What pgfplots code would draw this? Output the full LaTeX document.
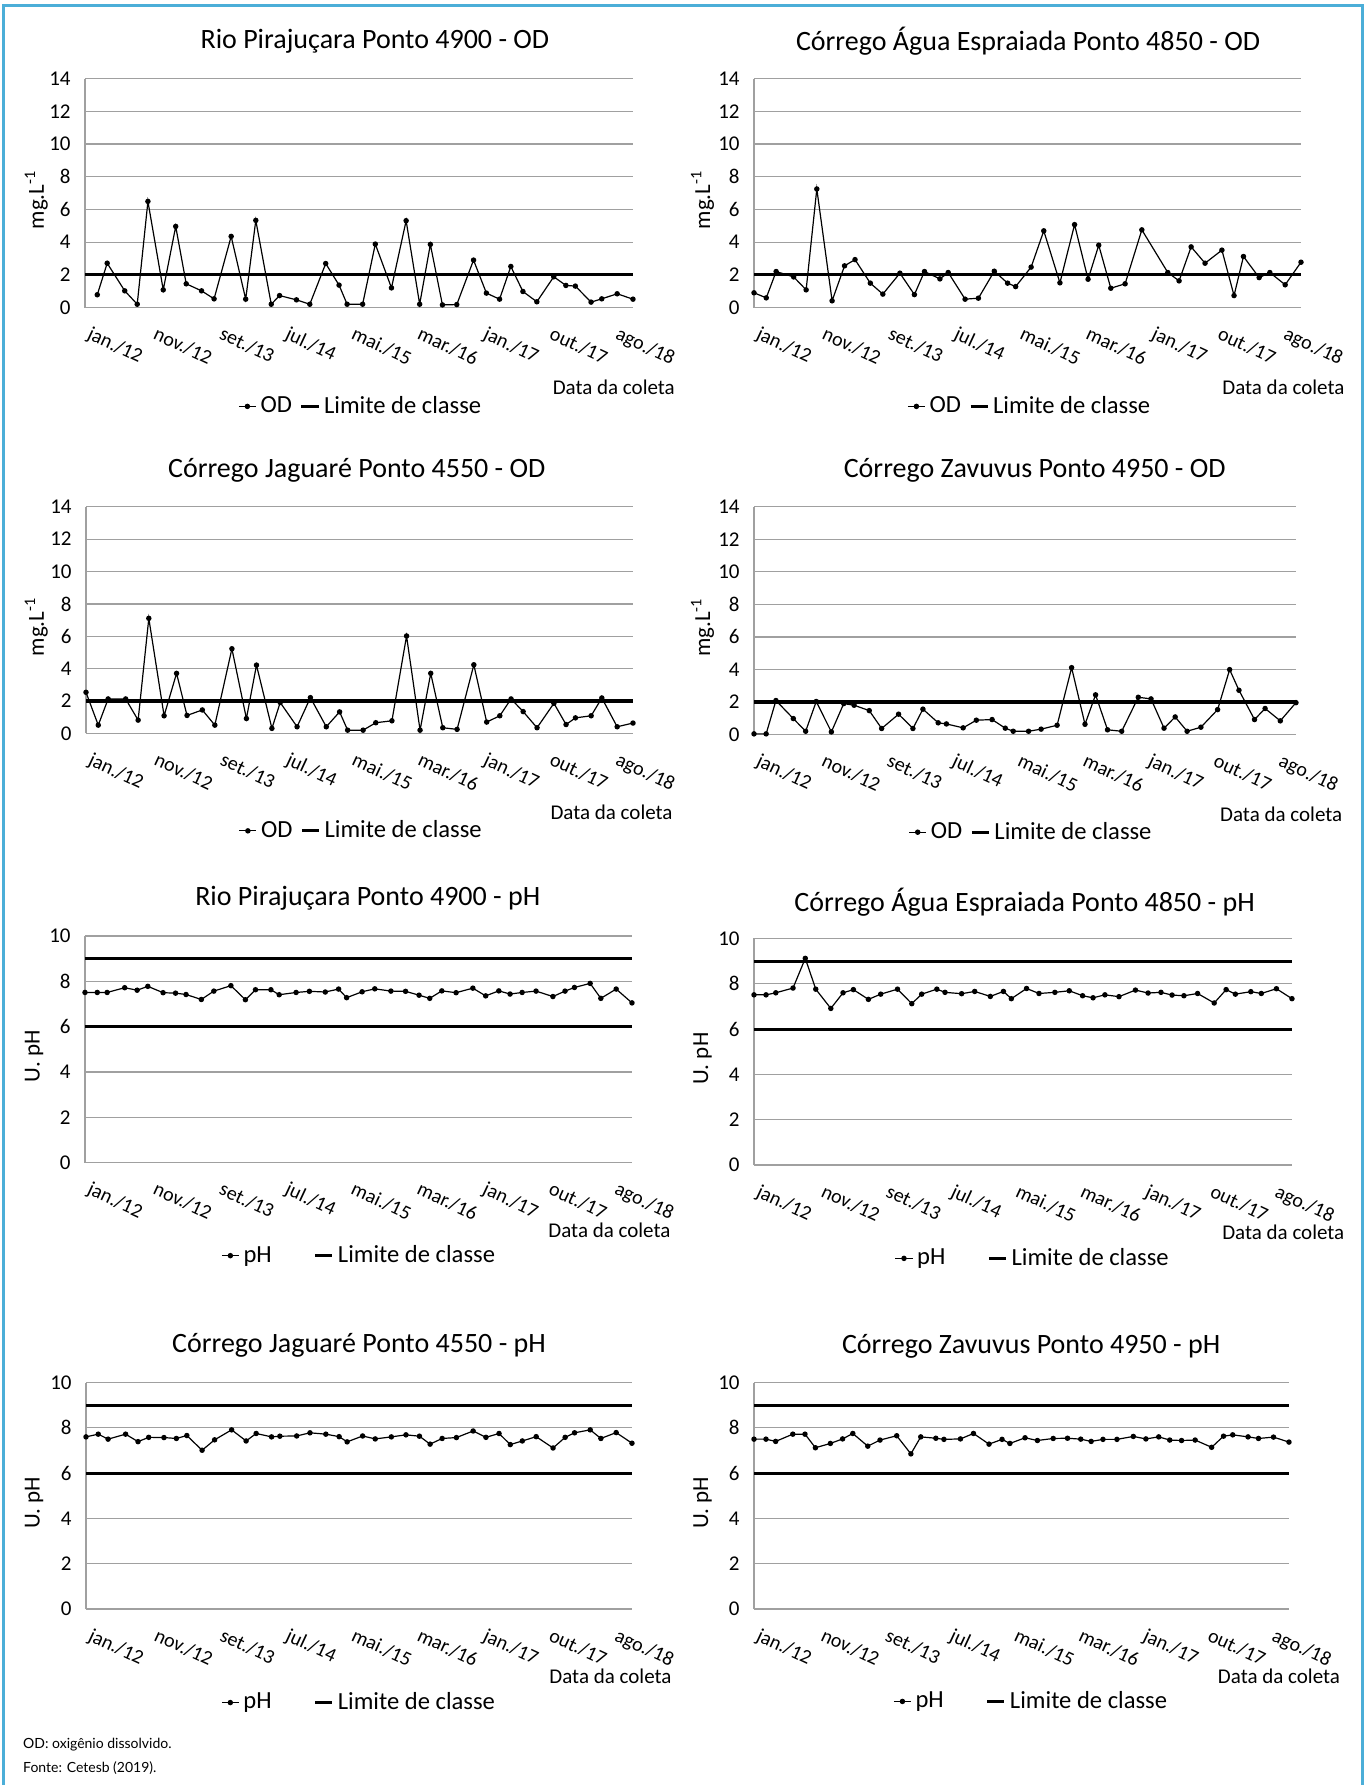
\documentclass[border=0pt]{standalone}
\usepackage{fontspec}
\setmainfont{Carlito}
\newfontfamily\footfont{Lato}
\usepackage{pgfplots}
\usepackage{pgfplotstable}
\pgfplotsset{compat=1.18}
\definecolor{gridc}{HTML}{A0A0A0}
\definecolor{frameblue}{HTML}{4BAED8}

\pgfplotstableread{
x     a    b    c    d    e    f    g    h
0     nan  0.90 2.54 0.04 7.51 7.51 7.60 7.50
1.86  0.78 0.59 0.51 0.04 7.51 7.51 7.72 7.50
3.36  2.71 2.20 2.13 2.09 7.51 7.60 7.50 7.40
6.02  1.02 1.87 2.13 0.98 7.72 7.81 7.72 7.72
7.91  0.20 1.08 0.82 0.20 7.61 9.12 7.39 7.72
9.53  6.49 7.25 7.11 2.03 7.78 7.76 7.58 7.12
11.85 1.08 0.41 1.09 0.16 7.50 6.91 7.57 7.31
13.74 4.96 2.55 3.71 1.90 7.48 7.60 7.53 7.51
15.33 1.45 2.93 1.11 1.80 7.42 7.74 7.66 7.75
17.65 1.02 1.49 1.45 1.47 7.20 7.31 7.01 7.19
19.55 0.53 0.82 0.51 0.37 7.57 7.54 7.47 7.46
22.14 4.35 2.10 5.23 1.25 7.81 7.76 7.91 7.65
24.34 0.51 0.79 0.92 0.37 7.19 7.12 7.42 6.85
25.87 5.33 2.20 4.22 1.56 7.63 7.54 7.75 7.60
28.21 0.20 1.75 0.31 0.72 7.63 7.76 7.60 7.54
29.47 0.73 2.14 1.91 0.65 7.41 7.62 7.63 7.49
32.03 0.47 0.51 0.41 0.41 7.51 7.56 7.64 7.51
34.05 0.20 0.57 2.21 0.88 7.56 7.66 7.78 7.75
36.46 2.69 2.22 0.41 0.92 7.53 7.44 7.72 7.28
38.48 1.37 1.49 1.33 0.39 7.66 7.66 7.61 7.49
39.70 0.20 1.28 0.20 0.20 7.28 7.34 7.38 7.31
42.05 0.20 2.47 0.20 0.20 7.54 7.79 7.64 7.56
43.97 3.88 4.69 0.66 0.33 7.67 7.57 7.51 7.44
46.42 1.20 1.51 0.78 0.57 7.57 7.62 7.60 7.53
48.64 5.31 5.07 6.02 4.11 7.56 7.69 7.69 7.54
50.69 0.20 1.73 0.20 0.63 7.39 7.47 7.63 7.50
52.31 3.86 3.81 3.71 2.44 7.25 7.38 7.28 7.40
54.14 0.16 1.18 0.35 0.29 7.58 7.51 7.53 7.49
56.31 0.18 1.45 0.25 0.20 7.50 7.43 7.57 7.49
58.85 2.90 4.75 4.24 2.29 7.70 7.72 7.86 7.62
60.80 0.88 nan  0.70 2.19 7.36 7.59 7.58 7.51
62.79 0.51 2.14 1.09 0.39 7.58 7.62 7.75 7.60
64.50 2.51 1.63 2.13 1.08 7.44 7.50 7.26 7.46
66.33 0.98 3.71 1.35 0.20 7.51 7.47 7.42 7.44
68.44 0.35 2.71 0.35 0.45 7.57 7.57 7.61 7.46
71.00 1.88 3.51 1.86 1.53 7.33 7.15 7.11 7.14
72.84 1.35 0.73 0.55 3.99 7.57 7.74 7.58 7.63
74.27 1.31 3.12 0.96 2.72 7.73 7.54 7.78 7.69
76.65 0.33 1.83 1.09 0.92 7.91 7.65 7.91 7.60
78.27 0.53 2.14 2.19 1.60 7.25 7.57 7.53 7.53
80.60 0.84 1.39 0.41 0.84 7.66 7.78 7.79 7.59
83.00 0.51 2.77 0.64 1.96 7.05 7.34 7.32 7.37
}\data

\pgfplotsset{
  panel/.style={
    scale only axis,
    anchor=south west,
    xmin=0, xmax=83,
    axis x line*=bottom, axis y line*=left,
    axis line style={-, draw=gridc, line width=0.6pt},
    ymajorgrids, grid style={draw=gridc, line width=0.6pt},
    xtick={0,10,...,80},
    xticklabels={jan./12,nov./12,set./13,jul./14,mai./15,mar./16,jan./17,out./17,ago./18},
    major tick length=0pt,
    tick style={draw=none},
    /pgf/number format/assume math mode=true,
    xticklabel style={xshift=3.5pt, yshift=-9pt, rotate=-25, anchor=north west, inner sep=0pt,
      font=\fontsize{10}{12}\selectfont},
    yticklabel style={font=\fontsize{10.5}{12}\selectfont, anchor=east, inner sep=0pt, xshift=-7pt},
    every axis title shift=0pt,
    title style={font=\fontsize{14}{17}\selectfont, anchor=center, inner sep=0pt},
    xlabel style={font=\fontsize{10.5}{12}\selectfont, anchor=east, inner sep=0pt},
    ylabel style={font=\fontsize{11.5}{13}\selectfont, anchor=center, inner sep=0pt},
    xlabel={Data da coleta},
    legend style={draw=none, fill=none, font=\fontsize{12.3}{14}\selectfont, anchor=center,
      legend columns=2, inner sep=0pt},
    legend image code/.code={\draw[mark repeat=2,mark phase=2,##1] plot coordinates {(0cm,0cm) (0.15cm,0cm) (0.3cm,0cm)};},
    clip=false,
  },
  odpanel/.style={panel, ymin=0, ymax=14, ytick={0,2,...,14}, ylabel={mg.L\textsuperscript{-1}},
    legend style={/tikz/every even column/.append style={column sep=2pt}}},
  phpanel/.style={panel, ymin=0, ymax=10, ytick={0,2,...,10}, ylabel={U. pH},
    legend style={/tikz/every even column/.append style={column sep=19pt}}},
  dline/.style={black, line width=0.6pt, mark=*, mark size=1.05pt},
  lim/.style={black, line width=1.55pt},
}

\begin{document}
\begin{tikzpicture}
\useasboundingbox (0pt,0pt) rectangle (685pt,-892.5pt);
\draw[frameblue, line width=1.5pt] (1.5pt,-892.5pt) -- (1.5pt,-2.5pt) -- (681pt,-2.5pt) -- (681pt,-892.5pt);

% Panel 1
\begin{axis}[odpanel, at={(42.5pt,-153.75pt)}, width=274pt, height=114.45pt,
  title={Rio Pirajuçara Ponto 4900 - OD},
  title style={at={(axis description cs:0.529,1.164)}},
  xlabel style={at={(axis description cs:1.077,-0.348)}},
  ylabel style={at={(axis description cs:-0.089,0.47)}},
  legend style={at={(axis description cs:0.505,-0.432)}}]
\addplot[dline] table[x=x,y=a]{\data};
\addplot[lim] coordinates {(0,2) (83,2)};
\legend{OD, Limite de classe}
\end{axis}

% Panel 2
\begin{axis}[odpanel, at={(377pt,-153.75pt)}, width=273.5pt, height=114.45pt,
  title={Córrego Água Espraiada Ponto 4850 - OD},
  title style={at={(axis description cs:0.501,1.164)}},
  xlabel style={at={(axis description cs:1.080,-0.348)}},
  ylabel style={at={(axis description cs:-0.094,0.47)}},
  legend style={at={(axis description cs:0.506,-0.432)}}]
\addplot[dline] table[x=x,y=b]{\data};
\addplot[lim] coordinates {(0,2) (83,2)};
\legend{OD, Limite de classe}
\end{axis}

% Panel 3
\begin{axis}[odpanel, at={(43pt,-366.7pt)}, width=273.5pt, height=113.3pt,
  title={Córrego Jaguaré Ponto 4550 - OD},
  title style={at={(axis description cs:0.495,1.161)}},
  xlabel style={at={(axis description cs:1.073,-0.347)}},
  ylabel style={at={(axis description cs:-0.091,0.47)}},
  legend style={at={(axis description cs:0.505,-0.43)}}]
\addplot[dline] table[x=x,y=c]{\data};
\addplot[lim] coordinates {(0,2) (83,2)};
\legend{OD, Limite de classe}
\end{axis}

% Panel 4
\begin{axis}[odpanel, at={(377pt,-367.25pt)}, width=271pt, height=113.85pt,
  title={Córrego Zavuvus Ponto 4950 - OD},
  title style={at={(axis description cs:0.518,1.160)}},
  xlabel style={at={(axis description cs:1.086,-0.35)}},
  ylabel style={at={(axis description cs:-0.095,0.47)}},
  legend style={at={(axis description cs:0.513,-0.429)}}]
\addplot[dline] table[x=x,y=d]{\data};
\addplot[lim] coordinates {(0,2) (83,2)};
\legend{OD, Limite de classe}
\end{axis}

% Panel 5
\begin{axis}[phpanel, at={(42.5pt,-581.35pt)}, width=273.5pt, height=113.35pt,
  title={Rio Pirajuçara Ponto 4900 - pH},
  title style={at={(axis description cs:0.517,1.166)}},
  xlabel style={at={(axis description cs:1.071,-0.296)}},
  ylabel style={at={(axis description cs:-0.093,0.47)}},
  legend style={at={(axis description cs:0.503,-0.41)}}]
\addplot[dline] table[x=x,y=e]{\data};
\addplot[lim] coordinates {(0,9) (83,9)};
\addplot[lim, forget plot] coordinates {(0,6) (83,6)};
\legend{pH, Limite de classe}
\end{axis}

% Panel 6
\begin{axis}[phpanel, at={(377pt,-582.5pt)}, width=269pt, height=113.3pt,
  title={Córrego Água Espraiada Ponto 4850 - pH},
  title style={at={(axis description cs:0.503,1.161)}},
  xlabel style={at={(axis description cs:1.098,-0.296)}},
  ylabel style={at={(axis description cs:-0.0955,0.47)}},
  legend style={at={(axis description cs:0.52,-0.412)}}]
\addplot[dline] table[x=x,y=f]{\data};
\addplot[lim] coordinates {(0,9) (83,9)};
\addplot[lim, forget plot] coordinates {(0,6) (83,6)};
\legend{pH, Limite de classe}
\end{axis}

% Panel 7
\begin{axis}[phpanel, at={(43pt,-804.5pt)}, width=273pt, height=113.25pt,
  title={Córrego Jaguaré Ponto 4550 - pH},
  title style={at={(axis description cs:0.50,1.166)}},
  xlabel style={at={(axis description cs:1.073,-0.297)}},
  ylabel style={at={(axis description cs:-0.095,0.47)}},
  legend style={at={(axis description cs:0.502,-0.413)}}]
\addplot[dline] table[x=x,y=g]{\data};
\addplot[lim] coordinates {(0,9) (83,9)};
\addplot[lim, forget plot] coordinates {(0,6) (83,6)};
\legend{pH, Limite de classe}
\end{axis}

% Panel 8
\begin{axis}[phpanel, at={(377pt,-804.5pt)}, width=267.5pt, height=113.25pt,
  title={Córrego Zavuvus Ponto 4950 - pH},
  title style={at={(axis description cs:0.518,1.161)}},
  xlabel style={at={(axis description cs:1.096,-0.297)}},
  ylabel style={at={(axis description cs:-0.096,0.47)}},
  legend style={at={(axis description cs:0.52,-0.408)}}]
\addplot[dline] table[x=x,y=h]{\data};
\addplot[lim] coordinates {(0,9) (83,9)};
\addplot[lim, forget plot] coordinates {(0,6) (83,6)};
\legend{pH, Limite de classe}
\end{axis}

\node[anchor=west, inner sep=0pt, font=\footfont\fontsize{7}{9}\selectfont] at (11.4pt,-872.3pt) {OD: oxigênio dissolvido.};
\node[anchor=west, inner sep=0pt, font=\footfont\fontsize{7}{9}\selectfont] at (11.4pt,-884.25pt) {Fonte: Cetesb (2019).};
\end{tikzpicture}
\end{document}
